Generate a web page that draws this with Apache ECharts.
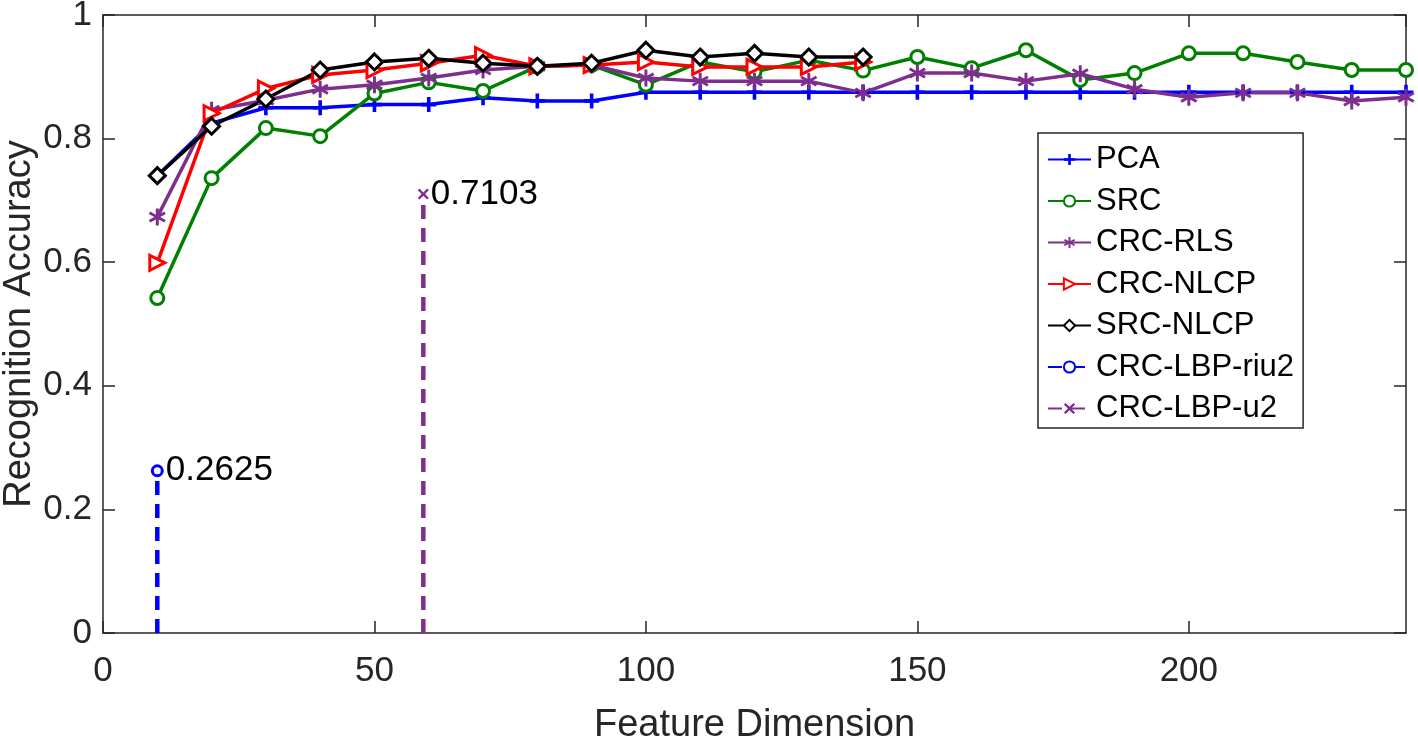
<!DOCTYPE html>
<html>
<head>
<meta charset="utf-8">
<script src="https://cdn.jsdelivr.net/npm/echarts@6/dist/echarts.min.js"></script>
<style>html,body{margin:0;padding:0;background:#fff;}#c{width:1418px;height:743px;}</style>
</head>
<body>
<div id="c"></div>
<script>
// ---- data ----
const dimsLong = [10,20,30,40,50,60,70,80,90,100,110,120,130,140,150,160,170,180,190,200,210,220,230,240];
const dimsShort = [10,20,30,40,50,60,70,80,90,100,110,120,130,140];
const pca    = [0.740,0.825,0.850,0.850,0.855,0.855,0.866,0.861,0.861,0.875,0.875,0.875,0.875,0.875,0.875,0.875,0.875,0.875,0.875,0.875,0.875,0.875,0.875,0.875];
const src    = [0.542,0.736,0.817,0.804,0.873,0.891,0.877,0.917,0.919,0.887,0.924,0.908,0.927,0.910,0.932,0.914,0.943,0.895,0.906,0.938,0.938,0.924,0.911,0.911];
const crcRls = [0.673,0.846,0.862,0.880,0.887,0.898,0.911,0.917,0.919,0.898,0.893,0.893,0.893,0.874,0.906,0.906,0.893,0.905,0.880,0.867,0.874,0.874,0.861,0.867];
const crcNlcp= [0.599,0.841,0.881,0.903,0.911,0.922,0.935,0.917,0.919,0.924,0.916,0.916,0.916,0.924];
const srcNlcp= [0.740,0.820,0.864,0.911,0.924,0.930,0.922,0.917,0.922,0.943,0.932,0.938,0.932,0.932];
const lbpRiu2 = {x: 10, y: 0.2625, label: '0.2625'};
const lbpU2   = {x: 59, y: 0.7103, label: '0.7103'};
const xTicks = {min: 0, max: 240, interval: 50};
const yTicks = {min: 0, max: 1, interval: 0.2};
const seriesNames = ['PCA','SRC','CRC-RLS','CRC-NLCP','SRC-NLCP','CRC-LBP-riu2','CRC-LBP-u2'];

// ---- helpers ----
const pair = (xs, ys) => xs.map((x, i) => [x, ys[i]]);
const FONT = 'Liberation Sans, Arial, Helvetica, sans-serif';
const TXT = '#262626';
const plusPath = 'path://M3.8,0H6.2V3.8H10V6.2H6.2V10H3.8V6.2H0V3.8H3.8Z';
const starPath = 'path://M8.5,0H11.5V6.4L17.05,3.2L18.55,5.8L13,9L18.55,12.2L17.05,14.8L11.5,11.6V18H8.5V11.6L2.95,14.8L1.45,12.2L7,9L1.45,5.8L2.95,3.2L8.5,6.4Z';
const triPath = 'path://M0,0L10,5L0,10Z';
const xPath = 'path://M0,1.5L1.5,0L5,3.5L8.5,0L10,1.5L6.5,5L10,8.5L8.5,10L5,6.5L1.5,10L0,8.5L3.5,5Z';

function lineSeries(name, xs, ys, color, symbol, size, hollow) {
  return {
    name, type: 'line', data: pair(xs, ys),
    symbol, symbolSize: size,
    lineStyle: {color, width: 3.5},
    itemStyle: hollow ? {color: '#fff', borderColor: color, borderWidth: 3} : {color},
    emphasis: {disabled: true}
  };
}
function stemSeries(name, p, color, symbol, size, hollow) {
  return {
    name, type: 'line',
    data: [
      {value: [p.x, 0], symbol: 'none', label: {show: false}},
      {value: [p.x, p.y]}
    ],
    symbol, symbolSize: size, showAllSymbol: true,
    lineStyle: {color, width: 4.5, type: [14, 9]},
    itemStyle: hollow ? {color: '#fff', borderColor: color, borderWidth: 3} : {color},
    label: {show: true, position: 'right', distance: 2, formatter: p.label,
            color: '#000', fontSize: 35, fontFamily: FONT},
    emphasis: {disabled: true}
  };
}

function axisCommon() {
  return {
    axisLine: {show: true, onZero: false, lineStyle: {color: TXT, width: 1.5}},
    axisTick: {show: true, inside: true, length: 12, lineStyle: {color: TXT, width: 1.5}},
    splitLine: {show: false}
  };
}

const chart = echarts.init(document.getElementById('c'), null, {renderer: 'canvas'});
chart.setOption({
  animation: false,
  backgroundColor: '#fff',
  grid: {left: 103, right: 12, top: 15, bottom: 110, containLabel: false, outerBoundsMode: 'none'},
  xAxis: [
    Object.assign(axisCommon(), {
      type: 'value', min: xTicks.min, max: xTicks.max, interval: xTicks.interval,
      position: 'bottom',
      name: 'Feature Dimension', nameLocation: 'middle', nameGap: 74,
      nameTextStyle: {color: TXT, fontSize: 38, fontFamily: FONT},
      axisLabel: {color: TXT, fontSize: 35, fontFamily: FONT, margin: 21, showMaxLabel: false,
                  formatter: v => (v === xTicks.max ? '' : String(v))}
    }),
    Object.assign(axisCommon(), {
      type: 'value', min: xTicks.min, max: xTicks.max, interval: xTicks.interval,
      position: 'top', axisLabel: {show: false}
    })
  ],
  yAxis: [
    Object.assign(axisCommon(), {
      type: 'value', min: yTicks.min, max: yTicks.max, interval: yTicks.interval,
      position: 'left',
      name: 'Recognition Accuracy', nameLocation: 'middle', nameGap: 64,
      nameMoveOverlap: false,
      nameTextStyle: {color: TXT, fontSize: 38, fontFamily: FONT},
      axisLabel: {color: TXT, fontSize: 35, fontFamily: FONT, margin: 11,
                  formatter: v => (Math.round(v * 10) / 10).toString()}
    }),
    Object.assign(axisCommon(), {
      type: 'value', min: yTicks.min, max: yTicks.max, interval: yTicks.interval,
      position: 'right', axisLabel: {show: false}
    })
  ],
  legend: {
    orient: 'vertical', left: 1038, top: 133,
    padding: [11, 9, 4, 9],
    itemWidth: 43, itemHeight: 14, itemGap: 10.5,
    backgroundColor: '#fff', borderColor: TXT, borderWidth: 1.5, borderRadius: 0,
    textStyle: {color: '#000', fontSize: 31, fontFamily: FONT, lineHeight: 30},
    data: seriesNames,
    selectedMode: false
  },
  series: [
    lineSeries(seriesNames[0], dimsLong, pca, '#0000ff', plusPath, 15, false),
    lineSeries(seriesNames[1], dimsLong, src, '#008000', 'circle', 13, true),
    lineSeries(seriesNames[2], dimsLong, crcRls, '#7e2f8e', starPath, 17, false),
    lineSeries(seriesNames[3], dimsShort, crcNlcp, '#ff0000', triPath, 15, true),
    lineSeries(seriesNames[4], dimsShort, srcNlcp, '#000000', 'diamond', 16, true),
    stemSeries(seriesNames[5], lbpRiu2, '#0000ff', 'circle', 10, true),
    stemSeries(seriesNames[6], lbpU2, '#7e2f8e', xPath, 11, false)
  ]
});
</script>
</body>
</html>
